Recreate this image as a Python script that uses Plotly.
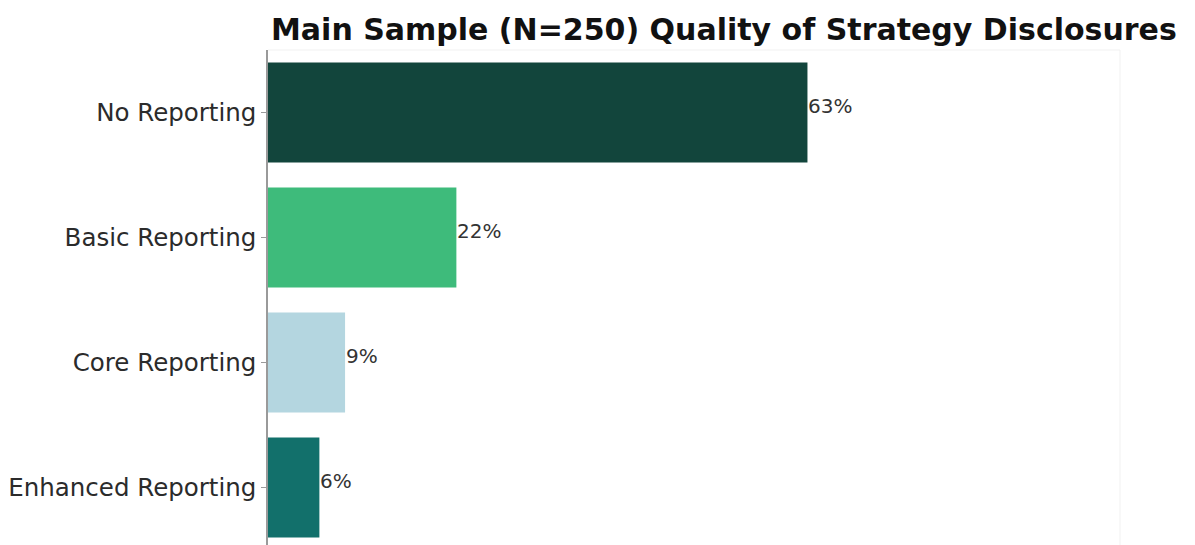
import plotly.graph_objects as go

# Share of firms in each disclosure-quality tier (percent of N=250)
categories = ["No Reporting", "Basic Reporting", "Core Reporting", "Enhanced Reporting"]
shares = [63, 22, 9, 6]
bar_colors = ["#12453c", "#3ebb7b", "#b4d6e0", "#12706b"]
value_labels = [f"{v}%" for v in shares]

FONT = "DejaVu Sans"

fig = go.Figure(
    go.Bar(
        x=shares,
        y=categories,
        orientation="h",
        marker=dict(color=bar_colors, line=dict(width=0)),
        hoverinfo="skip",
    )
)

# Percentage labels just right of each bar end
for cat, val, lab in zip(categories, shares, value_labels):
    fig.add_annotation(
        x=val, y=cat, text=lab, showarrow=False,
        xanchor="left", yanchor="middle", xshift=-1, yshift=7,
        font=dict(family=FONT, size=20, color="#333333"),
    )

# Faint top and right borders of the plotting area
fig.add_shape(
    type="path", xref="paper", yref="paper",
    path="M 0 1 L 1 1 L 1 0",
    line=dict(color="#f1f1f1", width=1), layer="below",
)

fig.update_layout(
    width=1195,
    height=545,
    margin=dict(l=268, r=75, t=50, b=0, pad=0),
    paper_bgcolor="white",
    plot_bgcolor="white",
    bargap=0.2,
    showlegend=False,
    title=dict(
        text="<b>Main Sample (N=250) Quality of Strategy Disclosures</b>",
        font=dict(family=FONT, size=30, color="#111111"),
        x=271 / 1195, xanchor="left", xref="container",
        y=1 - 29 / 545, yanchor="middle", yref="container",
    ),
    xaxis=dict(
        range=[0, 99.5], showgrid=False, zeroline=False,
        showticklabels=False, ticks="", showline=False,
    ),
    yaxis=dict(
        categoryorder="array", categoryarray=categories,
        range=[3.46, -0.5], automargin=False,
        showgrid=False, zeroline=False,
        showline=True, linecolor="#9a9a9a", linewidth=1.5,
        ticks="outside", ticklen=5, tickcolor="#9a9a9a", tickwidth=1,
        tickfont=dict(family=FONT, size=24.5, color="#2b2b2b"),
    ),
)

fig.write_html("out.html")
